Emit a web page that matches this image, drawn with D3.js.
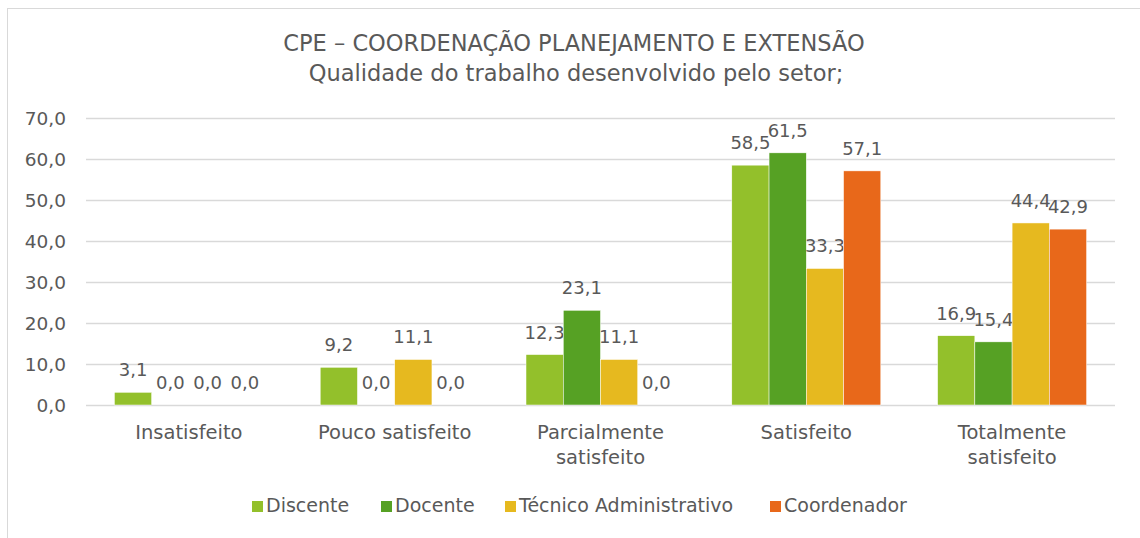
<!DOCTYPE html>
<html>
<head>
<meta charset="utf-8">
<script src="https://cdn.jsdelivr.net/npm/d3@7"></script>
<style>
  body { margin: 0; background: #fff; }
  text { font-family: "DejaVu Sans", sans-serif; fill: #595959; }
</style>
</head>
<body>
<div id="vis"></div>
<script>
var categories = ["Insatisfeito", "Pouco satisfeito", "Parcialmente satisfeito", "Satisfeito", "Totalmente satisfeito"],
    series = ["Discente", "Docente", "Técnico Administrativo", "Coordenador"],
    colors = ["#93c02b", "#56a124", "#e6b91f", "#e8681a"],
    values = [
        [3.1, 9.2, 12.3, 58.5, 16.9],
        [0.0, 0.0, 23.1, 61.5, 15.4],
        [0.0, 11.1, 11.1, 33.3, 44.4],
        [0.0, 0.0, 0.0, 57.1, 42.9]
    ],
    yTicks = [0, 10, 20, 30, 40, 50, 60, 70];

var w = 1140, h = 538,
    plotLeft = 86, plotRight = 1115, plotTop = 118, plotBottom = 405;

var svg = d3.select("#vis").append("svg")
    .attr("width", w)
    .attr("height", h);

// chart frame
svg.append("rect")
    .attr("x", 7.5).attr("y", 8.5)
    .attr("width", w).attr("height", h)
    .attr("fill", "none")
    .attr("stroke", "#d9d9d9");

var y = d3.scaleLinear().domain([0, 70]).range([plotBottom, plotTop]);
var x0 = d3.scaleBand().domain(categories).range([plotLeft, plotRight]).paddingInner(0.276).paddingOuter(0.138);
var x1 = d3.scaleBand().domain(series).range([0, x0.bandwidth()]);
var fmt = function(v) { return d3.format(".1f")(v).replace(".", ","); };

// gridlines
svg.selectAll(".grid")
    .data(yTicks)
    .enter().append("line")
    .attr("x1", plotLeft).attr("x2", plotRight)
    .attr("y1", function(d) { return Math.round(y(d)) + 0.5; })
    .attr("y2", function(d) { return Math.round(y(d)) + 0.5; })
    .attr("stroke", "#d9d9d9")
    .attr("stroke-width", 1.5);

svg.selectAll(".yLabel")
    .data(yTicks)
    .enter().append("text")
    .attr("x", 66)
    .attr("y", function(d) { return y(d); })
    .attr("dy", "0.36em")
    .attr("text-anchor", "end")
    .style("font-size", "18.5px")
    .text(fmt);

// bars
series.forEach(function(s, si) {
    var g = svg.append("g");
    g.selectAll("rect")
        .data(values[si])
        .enter().append("rect")
        .attr("x", function(d, i) { return x0(categories[i]) + x1(s); })
        .attr("y", function(d) { return y(d); })
        .attr("width", x1.bandwidth())
        .attr("height", function(d) { return y(0) - y(d); })
        .attr("fill", colors[si])
        .attr("stroke", "#fff")
        .attr("stroke-width", 0.5);
    g.selectAll("text")
        .data(values[si])
        .enter().append("text")
        .attr("x", function(d, i) { return x0(categories[i]) + x1(s) + x1.bandwidth() / 2; })
        .attr("y", function(d) { return y(d) - 16; })
        .attr("text-anchor", "middle")
        .style("font-size", "18px")
        .text(fmt);
});

// category labels
var catLines = {
    "Parcialmente satisfeito": ["Parcialmente", "satisfeito"],
    "Totalmente satisfeito": ["Totalmente", "satisfeito"]
};
categories.forEach(function(c) {
    var lines = catLines[c] || [c];
    var t = svg.append("text")
        .attr("x", x0(c) + x0.bandwidth() / 2)
        .attr("y", 439)
        .attr("text-anchor", "middle")
        .style("font-size", "19.5px");
    lines.forEach(function(l, i) {
        t.append("tspan")
            .attr("x", x0(c) + x0.bandwidth() / 2)
            .attr("dy", i === 0 ? 0 : 25)
            .text(l);
    });
});

// title
svg.append("text")
    .attr("x", 574).attr("y", 51)
    .attr("text-anchor", "middle")
    .style("font-size", "22.5px")
    .text("CPE – COORDENAÇÃO PLANEJAMENTO E EXTENSÃO");
svg.append("text")
    .attr("x", 576).attr("y", 81)
    .attr("text-anchor", "middle")
    .style("font-size", "22.5px")
    .text("Qualidade do trabalho desenvolvido pelo setor;");

// legend
var legendX = [252, 381, 505, 770];
series.forEach(function(s, i) {
    svg.append("rect")
        .attr("x", legendX[i]).attr("y", 501)
        .attr("width", 11).attr("height", 11)
        .attr("fill", colors[i]);
    svg.append("text")
        .attr("x", legendX[i] + 14).attr("y", 512)
        .style("font-size", "19px")
        .text(s);
});
</script>
</body>
</html>
